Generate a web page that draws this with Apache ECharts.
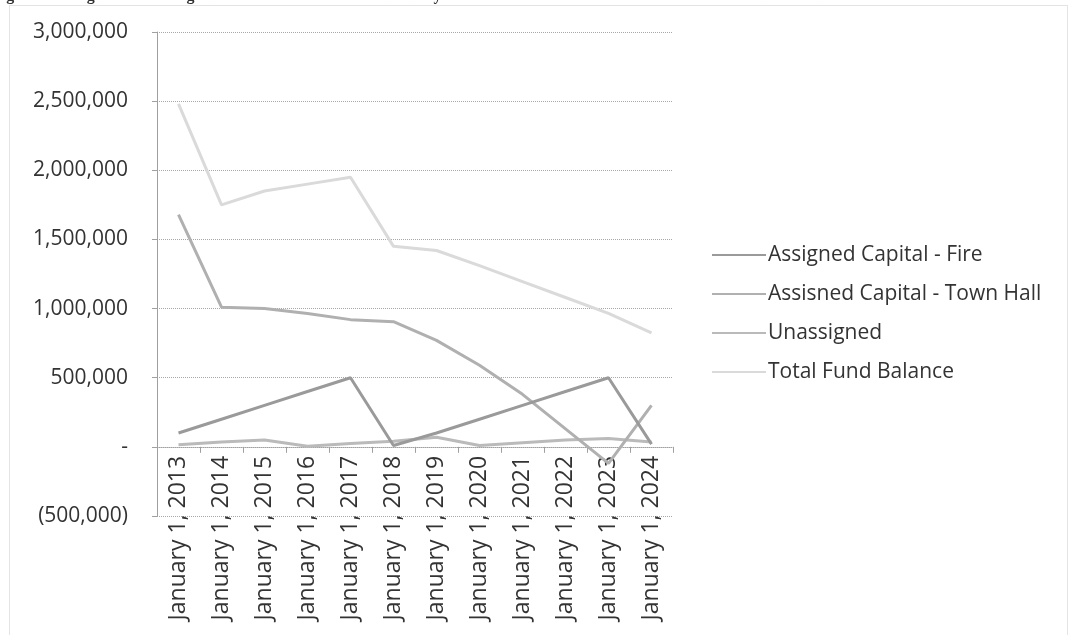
<!DOCTYPE html>
<html>
<head>
<meta charset="utf-8">
<script src="https://cdn.jsdelivr.net/npm/echarts@6/dist/echarts.min.js"></script>
<style>
  html, body { margin: 0; padding: 0; background: #ffffff; }
  #chart { width: 1070px; height: 635px; }
</style>
</head>
<body>
<div id="chart"></div>
<script>
const categories = ['January 1, 2013', 'January 1, 2014', 'January 1, 2015', 'January 1, 2016',
  'January 1, 2017', 'January 1, 2018', 'January 1, 2019', 'January 1, 2020',
  'January 1, 2021', 'January 1, 2022', 'January 1, 2023', 'January 1, 2024'];
const seriesNames = ['Assigned Capital - Fire', 'Assisned Capital - Town Hall', 'Unassigned', 'Total Fund Balance'];
const fireValues = [100000, 200000, 300000, 400000, 500000, 10000, 100000, 200000, 300000, 400000, 500000, 20000];
const townHallValues = [1680000, 1010000, 1000000, 965000, 920000, 905000, 770000, 590000, 380000, 130000, -120000, 300000];
const unassignedValues = [15000, 35000, 50000, 5000, 25000, 40000, 70000, 10000, 30000, 50000, 60000, 35000];
const totalValues = [2480000, 1750000, 1850000, 1900000, 1950000, 1450000, 1420000, 1310000, 1195000, 1080000, 965000, 825000];
const yTicks = { min: -500000, max: 3000000, interval: 500000 };
const titleText = 'Figure 4: Assigned & Unassigned Fund Balance – 12 Year History';

const colors = ['#9a9a9a', '#b0b0b0', '#bababa', '#dadada'];
const FONT = '"Open Sans", "Noto Sans", sans-serif';

function fmt(v) {
  if (v === 0) return '-';
  const s = Math.abs(v).toLocaleString('en-US');
  return v < 0 ? '(' + s + ')' : s;
}

const chart = echarts.init(document.getElementById('chart'), null, { renderer: 'canvas' });
const valueSets = [fireValues, townHallValues, unassignedValues, totalValues];

chart.setOption({
  animation: false,
  backgroundColor: '#ffffff',
  graphic: [
    {
      type: 'rect', silent: true,
      shape: { x: 9.5, y: 5.5, width: 1058, height: 630 },
      style: { fill: 'none', stroke: '#c8c8c8', lineWidth: 1, lineDash: [1, 1] }
    },
    {
      type: 'text', left: -8, top: -12, silent: true,
      style: { text: titleText, font: 'bold 16px "Liberation Serif", serif', fill: '#333' }
    }
  ],
  grid: { left: 157, right: 397, top: 32, bottom: 119, containLabel: false, outerBoundsMode: 'none' },
  legend: {
    orient: 'vertical',
    left: 707,
    top: 239,
    itemWidth: 54,
    itemHeight: 14,
    itemGap: 17,
    icon: 'path://M0,7 L54,7 L54,9 L0,9 Z',
    textStyle: { fontFamily: FONT, fontSize: 21, color: '#333', lineHeight: 22, padding: [0, 0, 0, -3] },
    data: seriesNames
  },
  xAxis: {
    type: 'category',
    data: categories,
    boundaryGap: true,
    position: 'bottom',
    offset: 0,
    axisLine: { onZero: false, lineStyle: { color: '#a0a0a0', width: 1, type: 'dotted' } },
    axisTick: { show: true, alignWithLabel: false, length: 6, lineStyle: { color: '#a0a0a0' } },
    axisLabel: { rotate: 90, margin: 9, fontFamily: FONT, fontSize: 23, color: '#333', interval: 0 },
    splitLine: { show: false }
  },
  yAxis: {
    type: 'value',
    min: yTicks.min, max: yTicks.max, interval: yTicks.interval,
    axisLine: { show: true, onZero: false, lineStyle: { color: '#a0a0a0', width: 1 } },
    axisTick: { show: true, length: 5, lineStyle: { color: '#a0a0a0' } },
    axisLabel: { margin: 29, fontFamily: FONT, fontSize: 21, color: '#333', formatter: fmt },
    splitLine: { show: true, lineStyle: { color: '#a8a8a8', type: 'dotted', width: 1 } }
  },
  series: seriesNames.map((name, i) => ({
    name: name,
    type: 'line',
    data: valueSets[i],
    symbol: 'none',
    showSymbol: false,
    smooth: false,
    color: colors[i],
    lineStyle: { color: colors[i], width: 3 },
    itemStyle: { color: colors[i] },
    z: 10 - i
  }))
});

// Place the category axis (line, ticks and labels) on the zero line, as in the source chart.
const zeroY = chart.convertToPixel({ yAxisIndex: 0 }, 0);
const bottomY = chart.convertToPixel({ yAxisIndex: 0 }, yTicks.min);
chart.setOption({ xAxis: { offset: -(bottomY - zeroY) } });
</script>
</body>
</html>
